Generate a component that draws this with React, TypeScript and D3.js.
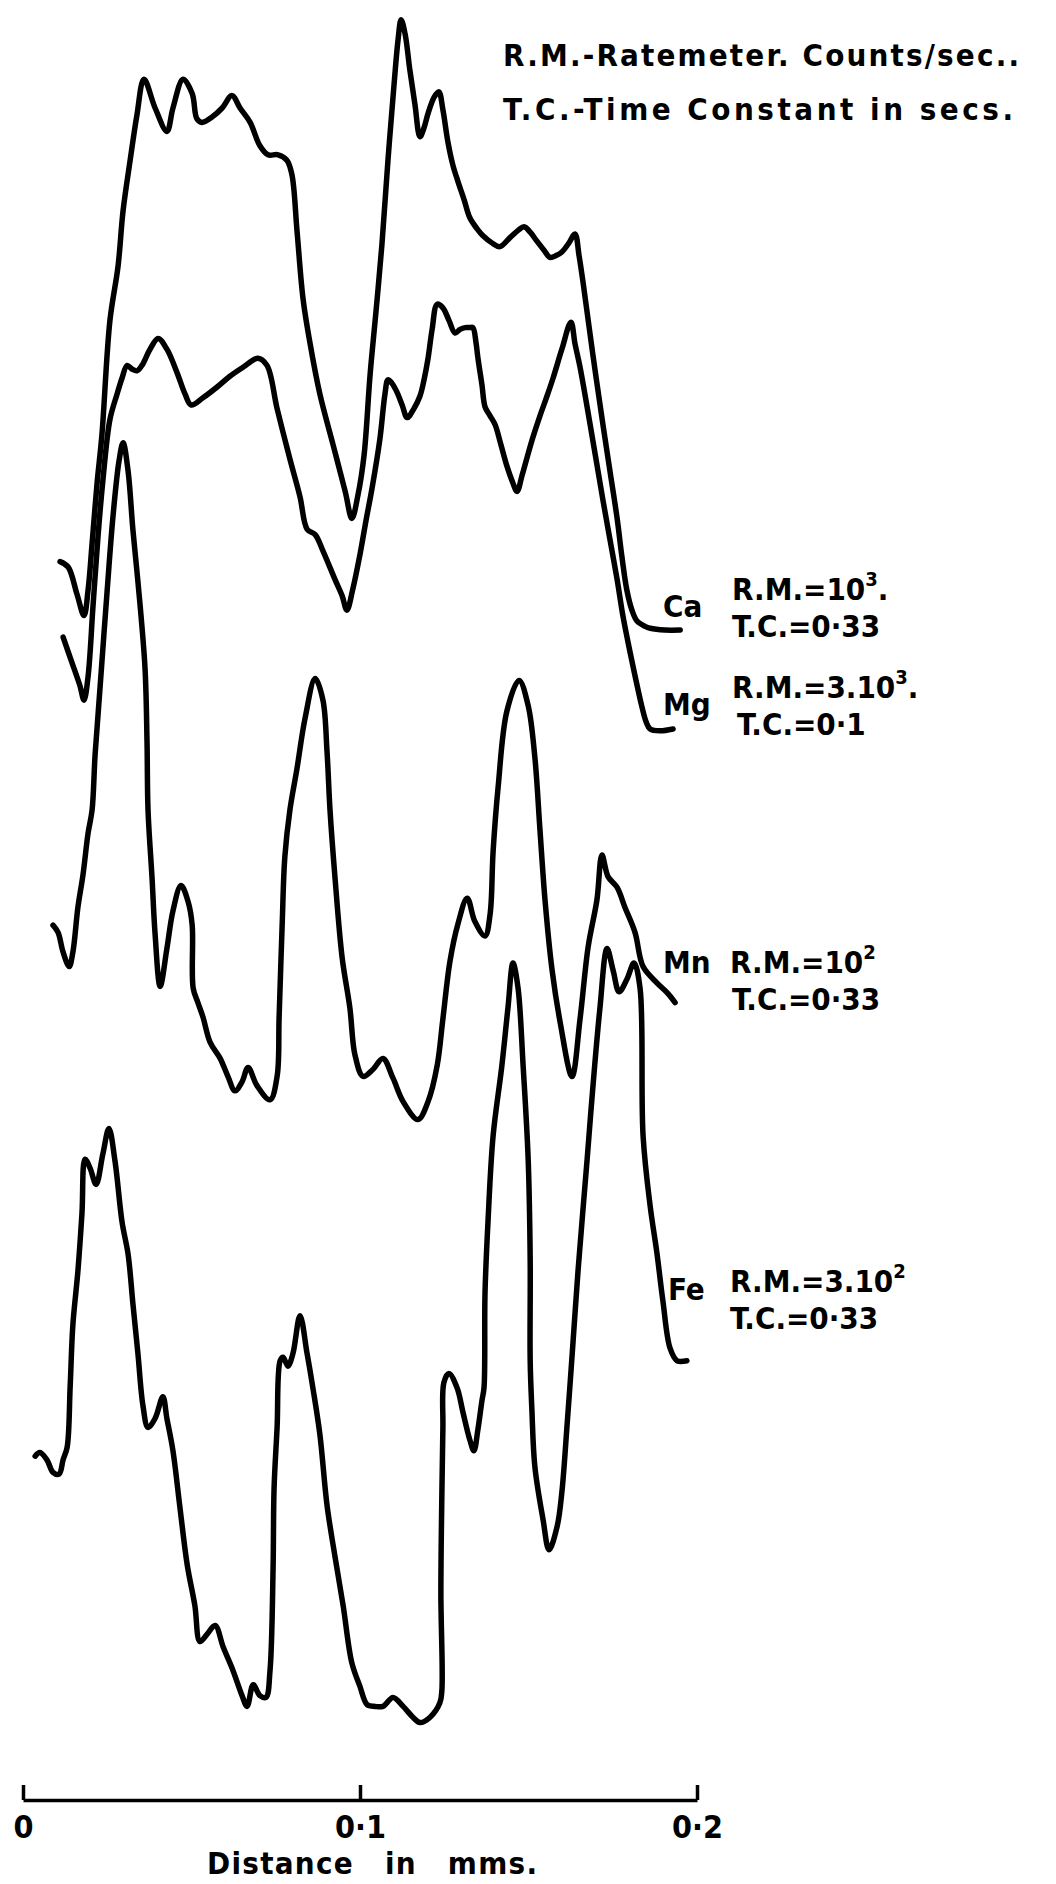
import React, { useEffect, useRef } from 'react';
import * as d3 from 'd3';

// traverse distance (mm), trace height (% of the recorder sheet, arbitrary units)
const caTrace: [number, number][] = [
  [0.0110, 68.8], [0.0134, 68.5], [0.0160, 67.0], [0.0181, 65.8], [0.0193, 67.2], [0.0205, 69.8],
  [0.0220, 73.2], [0.0234, 75.8], [0.0258, 82.2], [0.0282, 85.2], [0.0297, 88.3], [0.0318, 91.1],
  [0.0338, 93.6], [0.0359, 95.6], [0.0392, 94.0], [0.0427, 92.7], [0.0445, 94.0], [0.0475, 95.6],
  [0.0502, 94.8], [0.0516, 93.4], [0.0531, 93.2], [0.0561, 93.5], [0.0591, 94.0], [0.0620, 94.7],
  [0.0644, 94.0], [0.0674, 93.2], [0.0703, 91.9], [0.0727, 91.4], [0.0757, 91.4], [0.0783, 91.1],
  [0.0798, 90.3], [0.0813, 87.2], [0.0831, 83.4], [0.0852, 80.9], [0.0881, 78.1], [0.0920, 75.3],
  [0.0956, 72.7], [0.0976, 71.2], [0.0994, 72.5], [0.1012, 74.7], [0.1030, 79.2], [0.1048, 82.8],
  [0.1065, 86.4], [0.1083, 91.1], [0.1101, 95.3], [0.1113, 97.8], [0.1122, 98.9], [0.1134, 98.1],
  [0.1148, 96.1], [0.1163, 94.2], [0.1178, 92.4], [0.1190, 92.9], [0.1202, 93.7], [0.1220, 94.6],
  [0.1234, 94.9], [0.1246, 93.9], [0.1261, 92.1], [0.1276, 90.8], [0.1291, 89.9], [0.1309, 88.9],
  [0.1326, 87.9], [0.1347, 87.3], [0.1365, 86.9], [0.1392, 86.5], [0.1415, 86.3], [0.1445, 86.8],
  [0.1469, 87.2], [0.1487, 87.4], [0.1505, 87.1], [0.1525, 86.6], [0.1546, 86.1], [0.1564, 85.7],
  [0.1582, 85.8], [0.1599, 86.0], [0.1620, 86.5], [0.1638, 87.0], [0.1650, 85.8], [0.1662, 84.3],
  [0.1691, 80.3], [0.1721, 76.4], [0.1742, 73.8], [0.1763, 71.2], [0.1777, 69.1], [0.1792, 67.2],
  [0.1807, 66.1], [0.1822, 65.5], [0.1846, 65.2], [0.1861, 65.1], [0.1905, 65.0], [0.1950, 65.0],
];

const mgTrace: [number, number][] = [
  [0.0119, 64.6], [0.0145, 63.2], [0.0169, 61.9], [0.0181, 61.1], [0.0193, 62.4], [0.0208, 66.4],
  [0.0223, 70.3], [0.0237, 73.3], [0.0258, 76.7], [0.0279, 78.1], [0.0294, 79.0], [0.0309, 79.7],
  [0.0323, 79.5], [0.0338, 79.4], [0.0353, 79.7], [0.0377, 80.6], [0.0401, 81.2], [0.0427, 80.6],
  [0.0457, 79.3], [0.0481, 78.1], [0.0499, 77.5], [0.0534, 77.9], [0.0576, 78.5], [0.0614, 79.1],
  [0.0653, 79.6], [0.0697, 80.1], [0.0724, 79.7], [0.0754, 77.3], [0.0792, 74.5], [0.0822, 72.4],
  [0.0843, 70.6], [0.0867, 70.3], [0.0890, 69.4], [0.0926, 67.8], [0.0947, 66.9], [0.0961, 66.1],
  [0.0979, 67.3], [0.1000, 69.2], [0.1018, 71.1], [0.1036, 72.9], [0.1059, 75.6], [0.1074, 78.1],
  [0.1083, 78.9], [0.1095, 78.7], [0.1110, 78.2], [0.1125, 77.5], [0.1140, 76.8], [0.1160, 77.3],
  [0.1178, 78.0], [0.1190, 78.9], [0.1202, 80.1], [0.1214, 81.7], [0.1229, 83.1], [0.1246, 82.9],
  [0.1264, 82.2], [0.1282, 81.5], [0.1297, 81.7], [0.1312, 81.8], [0.1326, 81.8], [0.1335, 81.8],
  [0.1344, 81.0], [0.1350, 80.1], [0.1362, 78.6], [0.1371, 77.4], [0.1386, 76.9], [0.1401, 76.4],
  [0.1418, 75.3], [0.1436, 74.1], [0.1451, 73.3], [0.1466, 72.7], [0.1481, 73.6], [0.1496, 74.6],
  [0.1513, 75.7], [0.1534, 76.9], [0.1555, 78.0], [0.1573, 79.0], [0.1599, 80.6], [0.1626, 82.1],
  [0.1638, 80.9], [0.1653, 79.6], [0.1683, 76.4], [0.1721, 72.2], [0.1742, 70.0], [0.1763, 67.8],
  [0.1780, 65.8], [0.1801, 63.8], [0.1819, 62.2], [0.1837, 60.7], [0.1849, 59.9], [0.1861, 59.5],
  [0.1890, 59.4], [0.1929, 59.5],
];

const mnTrace: [number, number][] = [
  [0.0089, 48.6], [0.0104, 48.2], [0.0119, 47.1], [0.0137, 46.3], [0.0148, 47.1], [0.0163, 49.6],
  [0.0178, 51.4], [0.0193, 53.7], [0.0205, 55.0], [0.0214, 58.1], [0.0229, 61.9], [0.0249, 67.0],
  [0.0267, 71.3], [0.0285, 74.4], [0.0297, 75.4], [0.0312, 73.8], [0.0326, 70.6], [0.0341, 67.7],
  [0.0362, 62.9], [0.0368, 58.8], [0.0371, 55.0], [0.0383, 51.2], [0.0392, 48.1], [0.0407, 45.2],
  [0.0427, 47.3], [0.0445, 49.4], [0.0469, 50.8], [0.0490, 49.9], [0.0502, 48.6], [0.0505, 45.1],
  [0.0519, 44.3], [0.0534, 43.5], [0.0555, 42.1], [0.0585, 41.2], [0.0608, 40.2], [0.0629, 39.4],
  [0.0650, 39.9], [0.0668, 40.7], [0.0694, 39.7], [0.0733, 38.9], [0.0754, 40.2], [0.0760, 43.5],
  [0.0769, 48.6], [0.0777, 52.4], [0.0792, 55.0], [0.0813, 57.3], [0.0837, 60.1], [0.0867, 62.3],
  [0.0890, 61.1], [0.0902, 58.3], [0.0911, 55.0], [0.0926, 51.2], [0.0947, 46.8], [0.0970, 44.0],
  [0.0985, 41.4], [0.1009, 40.2], [0.1039, 40.6], [0.1068, 41.2], [0.1098, 40.1], [0.1128, 38.8],
  [0.1172, 37.8], [0.1202, 38.8], [0.1229, 40.8], [0.1246, 43.4], [0.1267, 46.6], [0.1291, 48.7],
  [0.1318, 50.1], [0.1341, 48.8], [0.1371, 48.0], [0.1386, 49.2], [0.1395, 52.7], [0.1410, 56.3],
  [0.1436, 60.5], [0.1472, 62.2], [0.1499, 60.8], [0.1519, 57.9], [0.1534, 53.9], [0.1549, 50.0],
  [0.1570, 46.1], [0.1594, 43.2], [0.1629, 40.2], [0.1653, 43.4], [0.1677, 47.4], [0.1703, 50.0],
  [0.1718, 52.5], [0.1736, 51.3], [0.1763, 50.7], [0.1786, 49.6], [0.1816, 48.2], [0.1840, 46.3],
  [0.1881, 45.4], [0.1914, 44.8], [0.1935, 44.3],
];

const feTrace: [number, number][] = [
  [0.0036, 19.1], [0.0050, 19.3], [0.0071, 18.9], [0.0089, 18.2], [0.0107, 18.1], [0.0119, 18.9],
  [0.0131, 19.6], [0.0140, 23.0], [0.0148, 26.4], [0.0163, 29.4], [0.0175, 32.6], [0.0184, 35.6],
  [0.0199, 35.1], [0.0217, 34.2], [0.0237, 35.9], [0.0255, 37.3], [0.0273, 35.5], [0.0294, 32.1],
  [0.0312, 30.3], [0.0326, 27.6], [0.0341, 24.8], [0.0356, 21.9], [0.0371, 20.7], [0.0392, 21.2],
  [0.0415, 22.4], [0.0427, 21.2], [0.0445, 19.4], [0.0466, 16.2], [0.0487, 13.1], [0.0510, 10.8],
  [0.0525, 8.8], [0.0546, 9.2], [0.0570, 9.7], [0.0594, 8.5], [0.0623, 7.2], [0.0650, 5.8],
  [0.0665, 5.2], [0.0683, 6.4], [0.0703, 5.8], [0.0721, 5.7], [0.0733, 7.2], [0.0742, 12.8],
  [0.0745, 17.3], [0.0754, 20.7], [0.0763, 24.4], [0.0772, 24.6], [0.0786, 24.1], [0.0801, 24.8],
  [0.0822, 26.9], [0.0843, 24.8], [0.0861, 22.8], [0.0881, 20.3], [0.0902, 16.4], [0.0926, 13.5],
  [0.0950, 10.8], [0.0976, 7.6], [0.1000, 6.3], [0.1021, 5.3], [0.1045, 5.2], [0.1068, 5.2],
  [0.1098, 5.7], [0.1128, 5.2], [0.1157, 4.6], [0.1178, 4.3], [0.1208, 4.6], [0.1237, 5.4],
  [0.1243, 6.1], [0.1240, 11.5], [0.1243, 17.1], [0.1246, 20.7], [0.1249, 23.2], [0.1264, 23.7],
  [0.1288, 22.9], [0.1306, 21.5], [0.1326, 20.0], [0.1338, 19.4], [0.1350, 20.6], [0.1362, 22.2],
  [0.1368, 22.9], [0.1371, 28.2], [0.1380, 32.2], [0.1395, 36.9], [0.1421, 40.8], [0.1439, 44.0],
  [0.1454, 46.5], [0.1469, 45.1], [0.1484, 40.8], [0.1499, 35.6], [0.1505, 30.0], [0.1505, 24.4],
  [0.1510, 21.7], [0.1519, 18.5], [0.1543, 15.6], [0.1561, 13.9], [0.1585, 15.2], [0.1599, 17.1],
  [0.1614, 20.7], [0.1632, 25.4], [0.1647, 29.4], [0.1674, 35.6], [0.1691, 39.6], [0.1712, 44.0],
  [0.1733, 47.3], [0.1751, 46.1], [0.1769, 44.9], [0.1792, 45.6], [0.1813, 46.5], [0.1831, 45.1],
  [0.1840, 36.9], [0.1861, 33.0], [0.1881, 30.4], [0.1899, 27.7], [0.1920, 25.1], [0.1941, 24.4],
  [0.1970, 24.4],
];

const traces = [caTrace, mgTrace, mnTrace, feTrace];

const elements = ['Ca', 'Mg', 'Mn', 'Fe'];
const rateMeterBase = ['10', '3.10', '10', '3.10'];
const rateMeterExp = ['3', '3', '2', '2'];
const rateMeterTail = ['.', '.', '', ''];
const timeConstants = ['0·33', '0·1', '0·33', '0·33'];

const distanceTicks = [0, 0.1, 0.2];
const distanceTickLabels = ['0', '0·1', '0·2'];

const legendLines = ['R.M.-Ratemeter. Counts/sec..', 'T.C.-Time Constant in secs.'];
const axisTitle = 'Distance in mms.';

const FONT = '"DejaVu Sans Condensed", "DejaVu Sans", sans-serif';

function App() {
  const ref = useRef<SVGSVGElement>(null);

  useEffect(() => {
    const width = 1056;
    const height = 1884;
    const svg = d3.select(ref.current);
    svg.selectAll('*').remove();
    svg.attr('width', width).attr('height', height);

    svg.append('rect').attr('width', width).attr('height', height).attr('fill', '#fff');

    const x = d3.scaleLinear().domain([0, 0.2]).range([23, 697]);
    const y = d3.scaleLinear().domain([0, 100]).range([1800, 0]);

    const line = d3.line<[number, number]>()
      .x(d => x(d[0]))
      .y(d => y(d[1]))
      .curve(d3.curveCatmullRom.alpha(0.5));

    // the four recorder traces
    svg.append('g')
      .selectAll('path')
      .data(traces)
      .enter()
      .append('path')
      .attr('d', d => line(d))
      .attr('fill', 'none')
      .attr('stroke', '#000')
      .attr('stroke-width', 5.5)
      .attr('stroke-linejoin', 'round')
      .attr('stroke-linecap', 'round');

    // distance scale bar
    const axis = d3.axisBottom(x)
      .tickValues(distanceTicks)
      .tickSizeInner(-15)
      .tickSizeOuter(0)
      .tickPadding(15)
      .tickFormat((d, i) => distanceTickLabels[i]);

    const g = svg.append('g').attr('transform', 'translate(0,1800)').call(axis);
    g.attr('font-family', FONT).attr('font-size', 32).attr('font-weight', 'bold');
    g.select('.domain').attr('stroke', '#000').attr('stroke-width', 3.5);
    g.selectAll('.tick line').attr('stroke', '#000').attr('stroke-width', 3.5);
    g.selectAll('.tick text').attr('fill', '#000');

    svg.append('text')
      .attr('x', 207)
      .attr('y', 1874)
      .attr('font-family', FONT)
      .attr('font-size', 31)
      .attr('font-weight', 'bold')
      .attr('word-spacing', 20)
      .attr('textLength', 330)
      .attr('lengthAdjust', 'spacing')
      .text(axisTitle);

    // key at the top right
    const legendY = [66, 120];
    const legendLen = [516, 510];
    legendLines.forEach((t, i) => {
      svg.append('text')
        .attr('x', 503)
        .attr('y', legendY[i])
        .attr('font-family', FONT)
        .attr('font-size', 31)
        .attr('font-weight', 'bold')
        .attr('textLength', legendLen[i])
        .attr('lengthAdjust', 'spacing')
        .text(t);
    });

    // element labels beside each trace end
    const layout = [
      { nx: 663, ny: 617, rx: 732, ry: 600, tx: 732, ty: 637 },
      { nx: 663, ny: 715, rx: 732, ry: 698, tx: 737, ty: 735 },
      { nx: 663, ny: 973, rx: 730, ry: 973, tx: 732, ty: 1010 },
      { nx: 668, ny: 1300, rx: 730, ry: 1292, tx: 730, ty: 1329 },
    ];

    elements.forEach((el, i) => {
      const p = layout[i];
      const lg = svg.append('g')
        .attr('font-family', FONT)
        .attr('font-size', 31)
        .attr('font-weight', 'bold')
        .attr('fill', '#000');

      lg.append('text').attr('x', p.nx).attr('y', p.ny).text(el);

      const rm = lg.append('text').attr('x', p.rx).attr('y', p.ry);
      rm.append('tspan').text('R.M.=' + rateMeterBase[i]);
      rm.append('tspan').attr('dy', -14).attr('font-size', 20).text(rateMeterExp[i]);
      if (rateMeterTail[i]) rm.append('tspan').attr('dy', 14).text(rateMeterTail[i]);

      lg.append('text').attr('x', p.tx).attr('y', p.ty).text('T.C.=' + timeConstants[i]);
    });
  }, []);

  return (
    <div style={{ position: 'absolute', left: 0, top: 0 }}>
      <svg ref={ref} style={{ display: 'block' }} />
    </div>
  );
}

export default App;
